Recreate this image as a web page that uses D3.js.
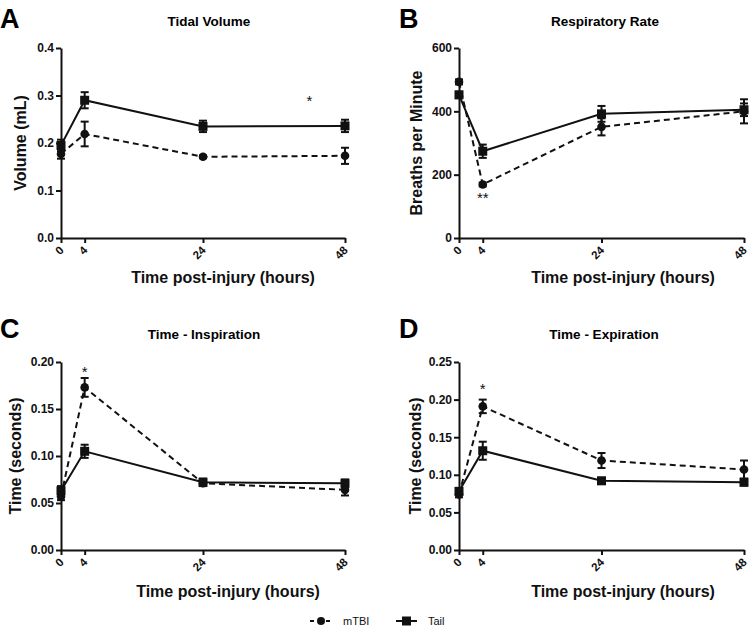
<!DOCTYPE html>
<html><head><meta charset="utf-8">
<script src="https://cdn.jsdelivr.net/npm/d3@7"></script>
<style>
body{margin:0;background:#fff;}
text{font-family:Arial,"Liberation Sans",Helvetica,sans-serif;}
</style></head>
<body><svg id="c" width="752" height="629"></svg>
<script>
const hours = [0, 4, 24, 48];
const xTickLabels = ["0", "4", "24", "48"];

// Panel A: Tidal Volume (mL)
const tvTail = [0.195, 0.290, 0.235, 0.236];
const tvTailErr = [0.012, 0.017, 0.012, 0.013];
const tvMtbi = [0.177, 0.219, 0.171, 0.173];
const tvMtbiErr = [0.010, 0.026, 0.003, 0.017];
const tvTicks = [0.0, 0.1, 0.2, 0.3, 0.4];

// Panel B: Respiratory Rate (breaths/min)
const rrTail = [452, 274, 392, 405];
const rrTailErr = [10, 21, 25, 20];
const rrMtbi = [493, 169, 351, 400];
const rrMtbiErr = [8, 6, 27, 38];
const rrTicks = [0, 200, 400, 600];

// Panel C: Time - Inspiration (s)
const tiTail = [0.063, 0.105, 0.072, 0.071];
const tiTailErr = [0.005, 0.007, 0.004, 0.004];
const tiMtbi = [0.057, 0.173, 0.071, 0.064];
const tiMtbiErr = [0.004, 0.010, 0.002, 0.006];
const tiTicks = [0.00, 0.05, 0.10, 0.15, 0.20];

// Panel D: Time - Expiration (s)
const teTail = [0.078, 0.132, 0.092, 0.090];
const teTailErr = [0.004, 0.012, 0.004, 0.004];
const teMtbi = [0.074, 0.191, 0.119, 0.107];
const teMtbiErr = [0.004, 0.009, 0.010, 0.012];
const teTicks = [0.00, 0.05, 0.10, 0.15, 0.20, 0.25];

const svg = d3.select("#c");

function panel(o) {
  const g = svg.append("g");
  const x = d3.scaleLinear().domain([0, 48]).range([o.x0, o.x1]);
  const y = d3.scaleLinear().domain([0, o.ymax]).range([o.yb, o.yt]);

  // panel letter
  g.append("text").attr("x", o.lx).attr("y", o.ly).attr("font-size", 27).attr("font-weight", "bold").text(o.letter);
  // title
  g.append("text").attr("x", o.tx).attr("y", o.ty).attr("text-anchor", "middle").attr("font-size", 13.5).attr("font-weight", "bold").text(o.title);

  // y axis
  const ya = g.append("g").attr("transform", `translate(${o.x0},0)`)
    .call(d3.axisLeft(y).tickValues(o.ticks).tickFormat(o.fmt).tickSize(5).tickSizeOuter(0));
  ya.select(".domain").attr("stroke", "#111").attr("stroke-width", 2);
  ya.selectAll(".tick line").attr("stroke", "#111").attr("stroke-width", 2);
  ya.selectAll(".tick text").attr("font-size", 12).attr("font-weight", "bold").attr("fill", "#111")
    .attr("font-family", "Arial, 'Liberation Sans', sans-serif").attr("x", -7);

  // x axis
  const xa = g.append("g").attr("transform", `translate(0,${o.yb})`)
    .call(d3.axisBottom(x).tickValues(hours).tickFormat((d, i) => xTickLabels[i]).tickSize(5).tickSizeOuter(0));
  xa.select(".domain").attr("stroke", "#111").attr("stroke-width", 2);
  xa.selectAll(".tick line").attr("stroke", "#111").attr("stroke-width", 2);
  xa.selectAll(".tick text").attr("font-size", 11.5).attr("font-weight", "bold").attr("fill", "#111")
    .attr("font-family", "Arial, 'Liberation Sans', sans-serif")
    .attr("text-anchor", "end").attr("dy", null).attr("y", 0)
    .attr("transform", "translate(3,13) rotate(-45)");

  // axis titles
  g.append("text").attr("transform", `translate(${o.yx},${(o.yt + o.yb) / 2}) rotate(-90)`)
    .attr("text-anchor", "middle").attr("font-size", 16).attr("font-weight", "bold").attr("fill", "#111").text(o.ylabel);
  g.append("text").attr("x", o.xlx).attr("y", o.xly).attr("text-anchor", "middle")
    .attr("font-size", 16).attr("font-weight", "bold").attr("fill", "#111").text("Time post-injury (hours)");

  function series(vals, errs, dashed, square) {
    const pts = hours.map((h, i) => ({h, v: vals[i], e: errs[i]}));
    g.append("path").datum(pts)
      .attr("d", d3.line().x(d => x(d.h)).y(d => y(d.v)))
      .attr("fill", "none").attr("stroke", "#111").attr("stroke-width", 2)
      .attr("stroke-dasharray", dashed ? "6,4" : null);
    const eb = g.append("g").selectAll("g").data(pts).join("g");
    eb.append("line").attr("x1", d => x(d.h)).attr("x2", d => x(d.h))
      .attr("y1", d => y(d.v - d.e)).attr("y2", d => y(d.v + d.e)).attr("stroke", "#111").attr("stroke-width", 2);
    eb.append("line").attr("x1", d => x(d.h) - 4).attr("x2", d => x(d.h) + 4)
      .attr("y1", d => y(d.v - d.e)).attr("y2", d => y(d.v - d.e)).attr("stroke", "#111").attr("stroke-width", 2);
    eb.append("line").attr("x1", d => x(d.h) - 4).attr("x2", d => x(d.h) + 4)
      .attr("y1", d => y(d.v + d.e)).attr("y2", d => y(d.v + d.e)).attr("stroke", "#111").attr("stroke-width", 2);
    if (square) {
      g.append("g").selectAll("rect").data(pts).join("rect")
        .attr("x", d => x(d.h) - 4.5).attr("y", d => y(d.v) - 4.5).attr("width", 9).attr("height", 9).attr("fill", "#111");
    } else {
      g.append("g").selectAll("circle").data(pts).join("circle")
        .attr("cx", d => x(d.h)).attr("cy", d => y(d.v)).attr("r", 4.3).attr("fill", "#111");
    }
  }
  series(o.mtbi, o.mtbiErr, true, false);
  series(o.tail, o.tailErr, false, true);

  // significance marker
  g.append("text").attr("x", x(o.star[0])).attr("y", y(o.star[1])).attr("text-anchor", "middle")
    .attr("font-size", 15).attr("fill", "#111").text(o.star[2]);
}

panel({letter: "A", lx: 0, ly: 28, title: "Tidal Volume", tx: 209, ty: 26,
  x0: 61, x1: 345, yt: 48, yb: 238, ymax: 0.4, ticks: tvTicks, fmt: d3.format(".1f"),
  ylabel: "Volume (mL)", yx: 26, xlx: 223, xly: 283,
  tail: tvTail, tailErr: tvTailErr, mtbi: tvMtbi, mtbiErr: tvMtbiErr, star: [42, 0.278, "*"]});

panel({letter: "B", lx: 399, ly: 28, title: "Respiratory Rate", tx: 605, ty: 26,
  x0: 459, x1: 744, yt: 48, yb: 238, ymax: 600, ticks: rrTicks, fmt: d3.format("d"),
  ylabel: "Breaths per Minute", yx: 422, xlx: 623, xly: 283,
  tail: rrTail, tailErr: rrTailErr, mtbi: rrMtbi, mtbiErr: rrMtbiErr, star: [4, 110, "**"]});

panel({letter: "C", lx: 0, ly: 338, title: "Time - Inspiration", tx: 204, ty: 339,
  x0: 61, x1: 345, yt: 362, yb: 550, ymax: 0.20, ticks: tiTicks, fmt: d3.format(".2f"),
  ylabel: "Time (seconds)", yx: 21, xlx: 228, xly: 597,
  tail: tiTail, tailErr: tiTailErr, mtbi: tiMtbi, mtbiErr: tiMtbiErr, star: [4, 0.184, "*"]});

panel({letter: "D", lx: 399, ly: 338, title: "Time - Expiration", tx: 604, ty: 339,
  x0: 459, x1: 744, yt: 362, yb: 550, ymax: 0.25, ticks: teTicks, fmt: d3.format(".2f"),
  ylabel: "Time (seconds)", yx: 421, xlx: 623, xly: 597,
  tail: teTail, tailErr: teTailErr, mtbi: teMtbi, mtbiErr: teMtbiErr, star: [4, 0.207, "*"]});

// legend
const lg = svg.append("g");
lg.append("line").attr("x1", 310).attr("x2", 332).attr("y1", 621).attr("y2", 621)
  .attr("stroke", "#111").attr("stroke-width", 2).attr("stroke-dasharray", "4,4");
lg.append("circle").attr("cx", 321).attr("cy", 621).attr("r", 4).attr("fill", "#111");
lg.append("text").attr("x", 343).attr("y", 625).attr("font-size", 11).attr("fill", "#111").text("mTBI");
lg.append("line").attr("x1", 396).attr("x2", 417).attr("y1", 621).attr("y2", 621)
  .attr("stroke", "#111").attr("stroke-width", 2);
lg.append("rect").attr("x", 402).attr("y", 616.5).attr("width", 9).attr("height", 9).attr("fill", "#111");
lg.append("text").attr("x", 428).attr("y", 625).attr("font-size", 11).attr("fill", "#111").text("Tail");
</script></body></html>
